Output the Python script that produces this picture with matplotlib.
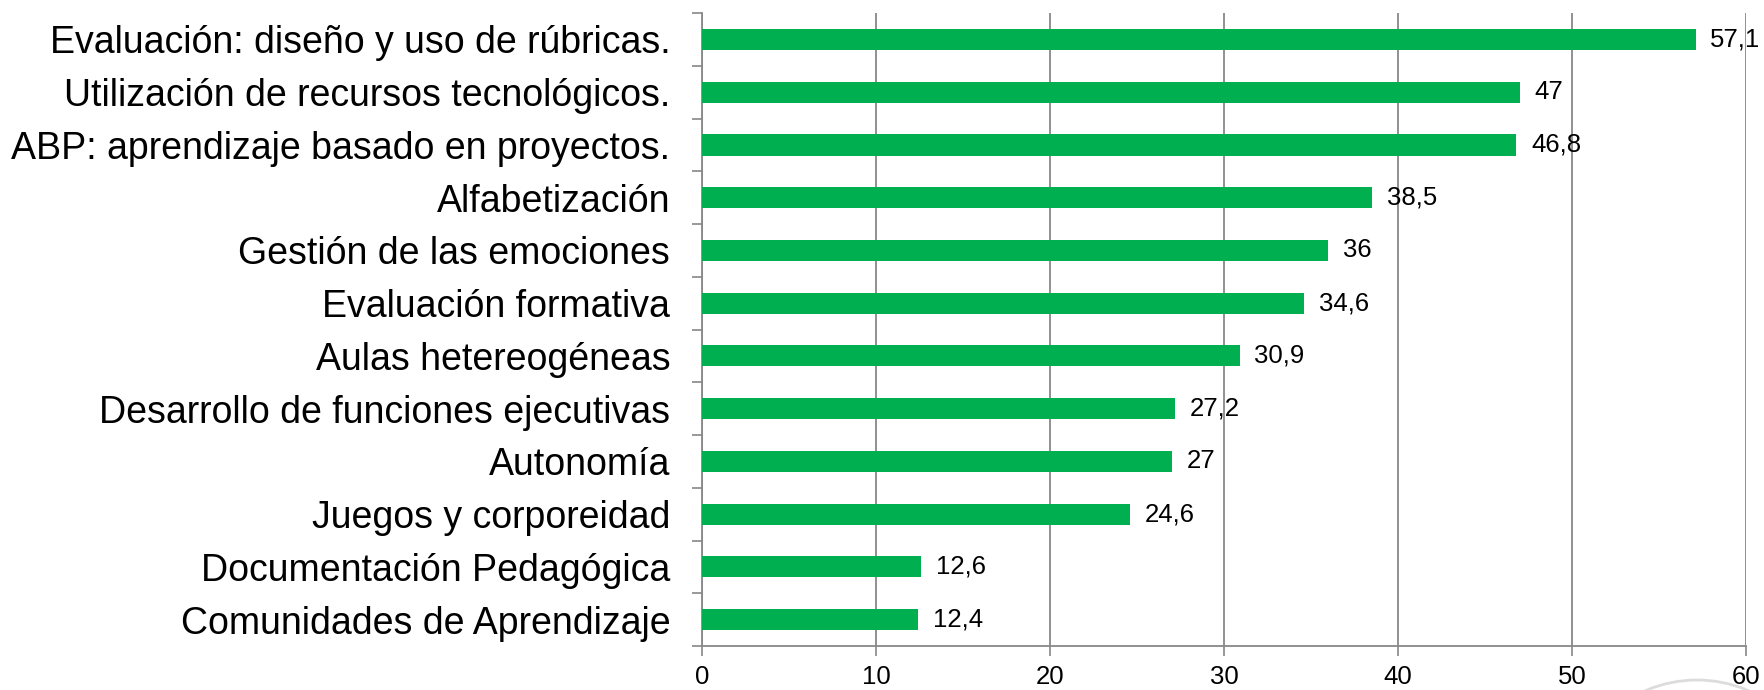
import numpy as np
import matplotlib.pyplot as plt
from matplotlib.ticker import FixedLocator
from matplotlib.patches import Circle

categorias = [
    "Evaluación: diseño y uso de rúbricas.",
    "Utilización de recursos tecnológicos.",
    "ABP: aprendizaje basado en proyectos.",
    "Alfabetización",
    "Gestión de las emociones",
    "Evaluación formativa",
    "Aulas hetereogéneas",
    "Desarrollo de funciones ejecutivas",
    "Autonomía",
    "Juegos y corporeidad",
    "Documentación Pedagógica",
    "Comunidades de Aprendizaje",
]
valores = [57.1, 47, 46.8, 38.5, 36, 34.6, 30.9, 27.2, 27, 24.6, 12.6, 12.4]
ticks_x = [0, 10, 20, 30, 40, 50, 60]

plt.rcParams['font.family'] = ['Liberation Sans', 'DejaVu Sans']

fig = plt.figure(figsize=(17.64, 6.9), dpi=100)
ax = fig.add_axes([0.398, 0.0638, 0.5918, 0.9172])

n = len(categorias)
y = np.arange(n)[::-1]
ax.barh(y, valores, height=0.4, color='#00B050', zorder=3)

for yi, v in zip(y, valores):
    txt = ('%g' % v).replace('.', ',')
    ax.text(v + 0.85, yi, txt, va='center', ha='left', fontsize=18.5, color='black', zorder=4)

ax.set_xlim(0, 60)
ax.set_ylim(-0.5, n - 0.5)
ax.set_xticks(ticks_x)
ax.set_xticklabels([str(t) for t in ticks_x], fontsize=18.5)
ax.set_yticks(y)
ax.set_yticklabels(categorias, fontsize=27)
ax.yaxis.set_minor_locator(FixedLocator(np.arange(n + 1) - 0.5))
ax.tick_params(axis='y', which='major', length=0, pad=23)
ax.tick_params(axis='y', which='minor', length=7, width=1.2, color='#888888', direction='out')
ax.tick_params(axis='x', length=7, width=1.2, color='#888888', direction='out', pad=7)

ax.grid(axis='x', color='#888888', linewidth=1.3, zorder=0)
for s in ['top', 'right']:
    ax.spines[s].set_visible(False)
for s in ['left', 'bottom']:
    ax.spines[s].set_color('#888888')
    ax.spines[s].set_linewidth(1.3)

# marca de agua (arco gris claro abajo a la derecha)
fig.add_artist(Circle((1697, -120), 130, transform=None, fill=False,
                      edgecolor='#dcdcdc', linewidth=2))

fig.savefig('out.png', dpi=100)
